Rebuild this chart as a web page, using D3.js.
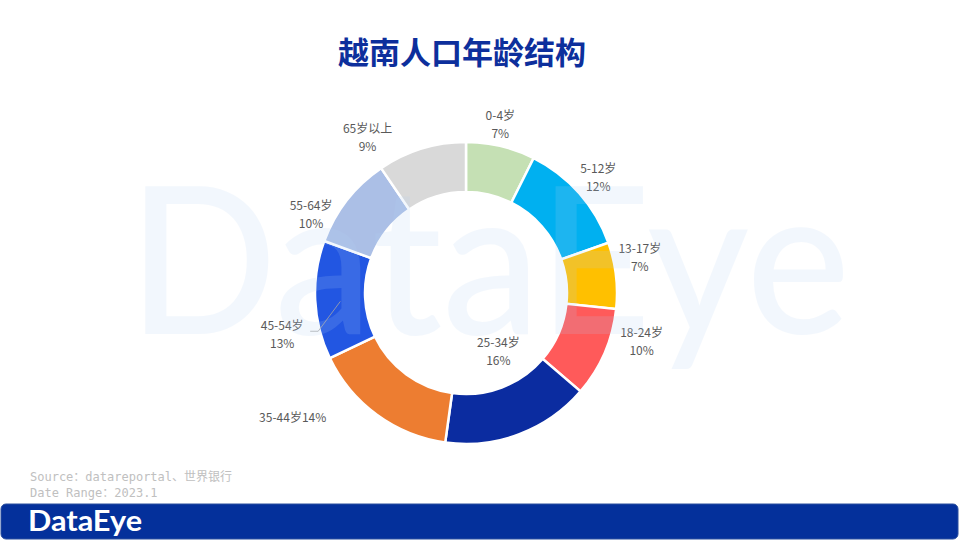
<!DOCTYPE html>
<html>
<head>
<meta charset="utf-8">
<script src="https://cdn.jsdelivr.net/npm/d3@7"></script>
<style>
  body { margin: 0; background: #fff; }
  svg { display: block; }
</style>
</head>
<body>
<svg id="chart" width="960" height="540"></svg>
<script>
// age groups and their share of population (slice sizes)
const ageGroups = ["0-4岁", "5-12岁", "13-17岁", "18-24岁", "25-34岁", "35-44岁", "45-54岁", "55-64岁", "65岁以上"];
const shareValues = [7.4, 12.2, 7.1, 9.6, 15.9, 15.7, 12.7, 9.9, 9.5];
// percentages as printed on the labels
const pctLabels = ["7%", "12%", "7%", "10%", "16%", "14%", "13%", "10%", "9%"];
const sliceColors = ["#c5e0b4", "#00b0f0", "#ffc000", "#ff5a5a", "#0b2ca0", "#ed7d31", "#2256e2", "#abbfe6", "#d9d9d9"];

window.addEventListener("load", main);

function main() {
    const svg = d3.select("#chart");
    svg.append("rect").attr("width", 960).attr("height", 540).attr("fill", "#fff");

    // title
    svg.append("text")
        .attr("x", 462).attr("y", 50)
        .attr("text-anchor", "middle")
        .attr("dominant-baseline", "central")
        .style("font-family", "'Noto Sans CJK SC', sans-serif")
        .style("font-weight", 700)
        .style("font-size", "31px")
        .style("fill", "#0d2f9c")
        .text("越南人口年龄结构");

    const cx = 466, cy = 293;
    const rOuter = 151, rInner = 101;

    const pie = d3.pie().sort(null).value(d => d.v);
    const arcs = pie(ageGroups.map((g, i) => ({ g: g, v: shareValues[i], p: pctLabels[i], c: sliceColors[i] })));
    const arc = d3.arc().innerRadius(rInner).outerRadius(rOuter);
    const labelArc = d3.arc().innerRadius(175).outerRadius(175);

    const g = svg.append("g").attr("transform", `translate(${cx},${cy})`);
    g.selectAll("path.slice")
        .data(arcs)
        .enter()
        .append("path")
        .attr("class", "slice")
        .attr("d", arc)
        .style("fill", d => d.data.c)
        .style("stroke", "#fff")
        .style("stroke-width", 2.5);

    // watermark lies over the ring, tinting it a little
    svg.append("text")
        .attr("x", 128).attr("y", 334)
        .attr("textLength", 722)
        .attr("lengthAdjust", "spacingAndGlyphs")
        .style("font-family", "Lato, sans-serif")
        .style("font-weight", 500)
        .style("font-size", "206px")
        .style("fill", "#b4d2f5")
        .style("opacity", 0.16)
        .text("DataEye");

    // label nudges from the spot on the label ring (Excel placed them by hand)
    const labelNudge = [[-6, 1], [1, -1], [0, -16], [15, -22], [0, 0], [-70, -18], [-9, 32], [-17, 28], [-47, 11]];
    const innerLabel = d3.arc().innerRadius(60).outerRadius(72);

    const labels = g.selectAll("g.lbl")
        .data(arcs)
        .enter()
        .append("g")
        .attr("class", "lbl")
        .attr("transform", (d, i) => {
            let p;
            if (i === 4) {
                p = innerLabel.centroid(d);
                p = [p[0] + 9, p[1] - 4];
            } else {
                p = labelArc.centroid(d);
                p = [p[0] + labelNudge[i][0], p[1] + labelNudge[i][1]];
            }
            return `translate(${p[0]},${p[1]})`;
        });

    labels.each(function(d, i) {
        const lg = d3.select(this);
        const lines = i === 5 ? [d.data.g + d.data.p] : [d.data.g, d.data.p];
        lg.selectAll("text")
            .data(lines)
            .enter()
            .append("text")
            .attr("text-anchor", "middle")
            .attr("dominant-baseline", "central")
            .attr("y", (t, k) => lines.length === 1 ? 0 : (k === 0 ? -9 : 9))
            .style("font-family", "'Noto Sans CJK SC', sans-serif")
            .style("font-size", "12px")
            .style("fill", "#595959")
            .text(t => t);
    });

    // leader line for the 45-54 label
    const a45 = arcs[6];
    const mid45 = (a45.startAngle + a45.endAngle) / 2 - 0.02;
    const rMid = (rInner + rOuter) / 2;
    const p0 = [Math.sin(mid45) * rMid, -Math.cos(mid45) * rMid];
    const lp = labelArc.centroid(a45);
    const p2 = [lp[0] + labelNudge[6][0] + 28, lp[1] + labelNudge[6][1] - 2];
    g.append("path")
        .attr("d", d3.line()([p0, [p2[0] + 8, p2[1]], p2]))
        .style("fill", "none")
        .style("stroke", "#a6a6a6")
        .style("stroke-width", 0.8);

    // source notes
    const notes = ["Source：datareportal、世界银行", "Date Range：2023.1"];
    svg.selectAll("text.note")
        .data(notes)
        .enter()
        .append("text")
        .attr("class", "note")
        .attr("x", 30)
        .attr("y", (d, i) => 477 + i * 16)
        .attr("dominant-baseline", "central")
        .style("font-family", "'DejaVu Sans Mono', 'Noto Sans CJK SC', monospace")
        .style("font-size", "12px")
        .style("fill", "#c0c0c0")
        .text(d => d);

    // footer bar with logo
    svg.append("rect")
        .attr("x", 1).attr("y", 504)
        .attr("width", 957).attr("height", 35)
        .attr("rx", 5)
        .style("fill", "#04309b")
        .style("stroke", "#2a4f9e")
        .style("stroke-width", 1);
    svg.append("text")
        .attr("x", 28).attr("y", 531)
        .attr("textLength", 114)
        .attr("lengthAdjust", "spacingAndGlyphs")
        .style("font-family", "Lato, sans-serif")
        .style("font-weight", 700)
        .style("font-size", "29px")
        .style("fill", "#fff")
        .text("DataEye");
}
</script>
</body>
</html>
